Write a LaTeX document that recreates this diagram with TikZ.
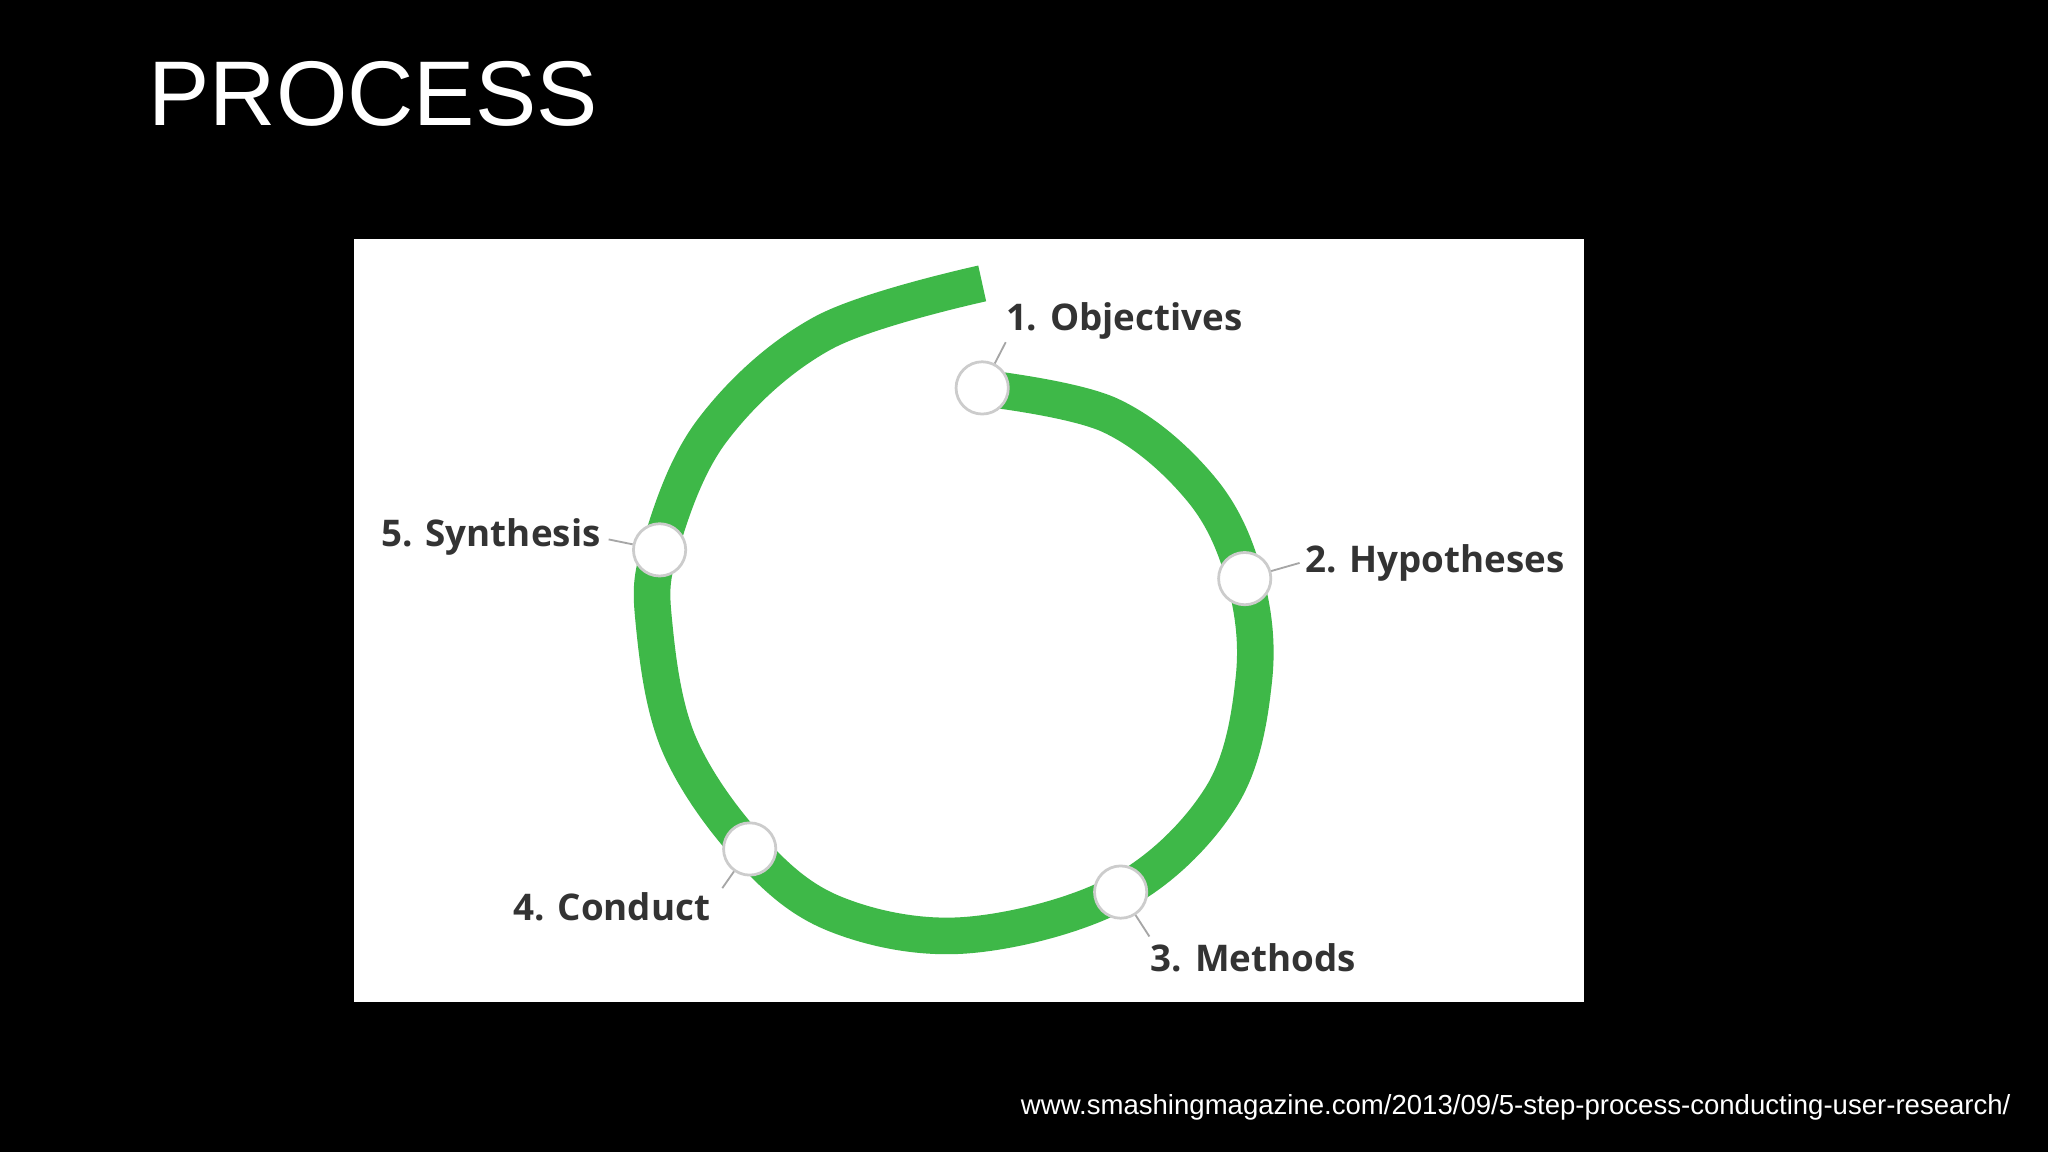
\documentclass[tikz,border=0pt]{standalone}
\usepackage{fontspec}
\setmainfont{Liberation Sans}
\newfontfamily\lab{Open Sans}
\begin{document}
\begin{tikzpicture}[x=0.01cm,y=-0.01cm,
  dot/.style={circle,fill=white,draw=black!20,line width=0.6pt,minimum size=0.4cm,inner sep=0pt},
  lbl/.style={font=\lab\bfseries\fontsize{8}{9}\selectfont,text=black!80,inner sep=1pt},
  lead/.style={draw=black!35,line width=0.4pt}]
\fill[black] (0,0) rectangle (1568,882);
\useasboundingbox (0,0) rectangle (1568,882);
\node[anchor=west,text=white,font=\fontsize{20}{24}\selectfont,inner sep=0pt] (title) at (113,72) {PROCESS};
\fill[white] (271,183) rectangle (1213,767);
\definecolor{grn}{RGB}{62,184,72}
\draw[grn,line width=0.28cm,line cap=butt] plot[smooth,tension=0.6] coordinates {
 (752,297) (850,318) (920,375) (953,443) (960,520) (935,610) (858,683) (740,716) (640,700) (574,650) (520,570) (501,480) (505,421) (545,330) (630,255) (752,217)};
\node[dot] (n1) at (752,297) {};
\node[dot] (n2) at (953,443) {};
\node[dot] (n3) at (858,683) {};
\node[dot] (n4) at (574,650) {};
\node[dot] (n5) at (505,421) {};
\node[lbl,anchor=west] (l1) at (766,246) {1. Objectives};
\node[lbl,anchor=west] (l2) at (995,431) {2. Hypotheses};
\node[lbl,anchor=west] (l3) at (877,733) {3. Methods};
\node[lbl,anchor=east] (l4) at (548,694) {4. Conduct};
\node[lbl,anchor=east] (l5) at (464,411) {5. Synthesis};
\draw[lead] (n1) -- (770,262);
\draw[lead] (n2) -- (995,431);
\draw[lead] (n3) -- (880,717);
\draw[lead] (n4) -- (553,680);
\draw[lead] (n5) -- (466,413);
\node[anchor=east,text=white,font=\fontsize{6}{7}\selectfont,inner sep=0pt] (url) at (1540,848) {www.smashingmagazine.com/2013/09/5-step-process-conducting-user-research/};
\end{tikzpicture}
\end{document}
